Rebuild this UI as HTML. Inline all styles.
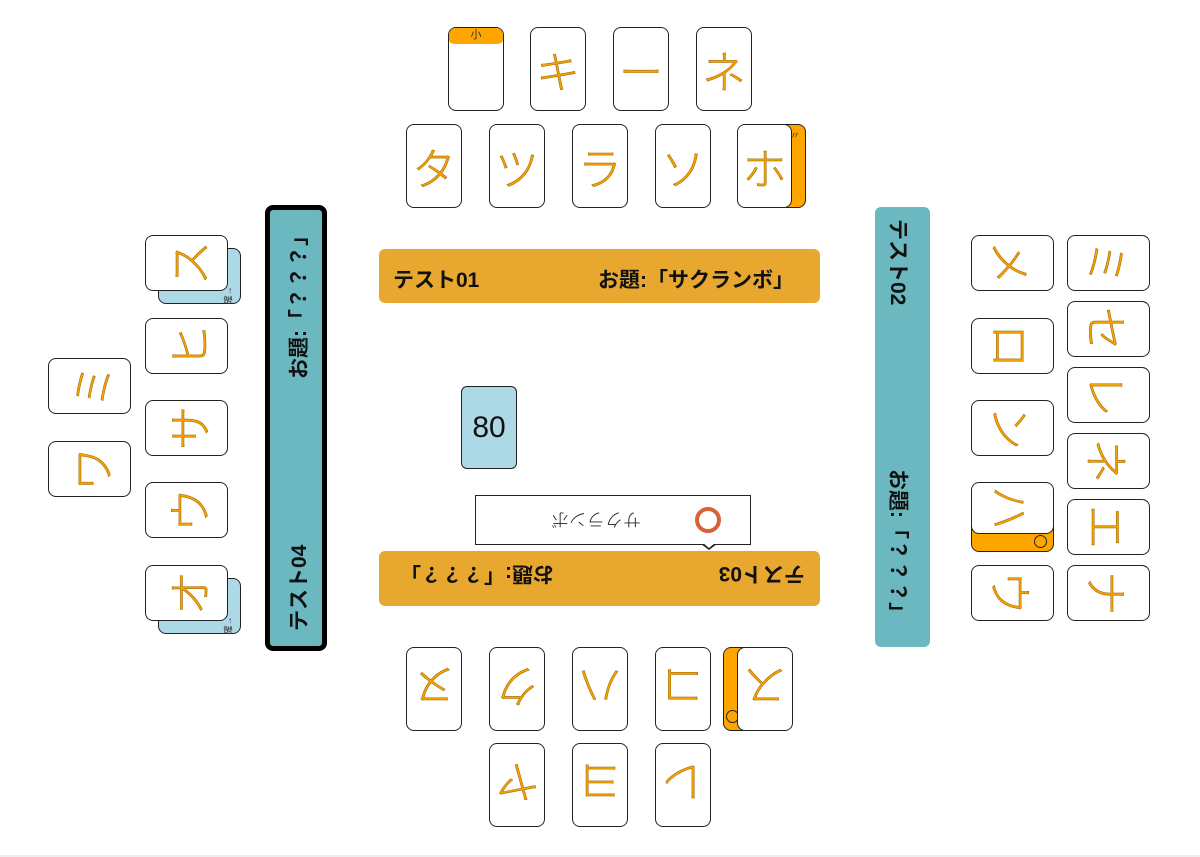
<!DOCTYPE html>
<html><head><meta charset="utf-8"><style>
body{margin:0;width:1200px;height:857px;background:#fff;position:relative;overflow:hidden;font-family:"Liberation Sans","Noto Sans CJK JP",sans-serif}
.c{position:absolute;background:#fff;border:1.5px solid #222;border-radius:8px;box-sizing:border-box;display:flex;align-items:center;justify-content:center;overflow:hidden}
.v{width:56px;height:84px}
.h{width:83px;height:56px}
.g{font-family:"Noto Sans CJK JP",sans-serif;font-weight:300;font-size:44px;color:#F5A300;-webkit-text-stroke:0.5px #9a6200;display:inline-block;line-height:1}
.r90{transform:rotate(90deg)}.rm90{transform:rotate(-90deg)}.r180{transform:rotate(180deg)}
.ban{position:absolute;border-radius:6px;box-sizing:border-box;font-weight:bold;font-size:21px;color:#111}
.blue{position:absolute;background:#ADD8E6;border:1.5px solid #222;border-radius:8px;box-sizing:border-box}
.or{position:absolute;background:#FFA500;border:1.5px solid #222;border-radius:8px;box-sizing:border-box}
</style></head><body>
<!-- top row1 -->
<div class="c v" style="left:448px;top:27px"><div style="position:absolute;left:0;top:0;right:0;height:16px;background:#FFA500;border-bottom-left-radius:6px 4px;border-bottom-right-radius:6px 4px;font-size:11px;text-align:center;line-height:14px;color:#333">小</div></div>
<div class="c v" style="left:530px;top:27px"><span class="g">キ</span></div>
<div class="c v" style="left:613px;top:27px"><span class="g">ー</span></div>
<div class="c v" style="left:696px;top:27px"><span class="g">ネ</span></div>
<!-- top row2 -->
<div class="c v" style="left:406px;top:124px"><span class="g">タ</span></div>
<div class="c v" style="left:489px;top:124px"><span class="g">ツ</span></div>
<div class="c v" style="left:572px;top:124px"><span class="g">ラ</span></div>
<div class="c v" style="left:655px;top:124px"><span class="g">ソ</span></div>
<div class="or" style="left:750px;top:124px;width:56px;height:84px"><span style="position:absolute;right:5px;top:2px;font-size:10px;color:#333">〃</span></div>
<div class="c v" style="left:737px;top:124px;width:55px"><span class="g">ホ</span></div>
<!-- top banner -->
<div class="ban" style="left:379px;top:249px;width:441px;height:54px;background:#E8A830">
<span style="position:absolute;left:14px;top:15px">テスト01</span><span style="position:absolute;left:219px;top:15px">お題:「サクランボ」</span></div>
<!-- left banner -->
<div class="ban" style="left:265px;top:205px;width:62px;height:446px;background:#6BB8C0;border:5px solid #000;border-radius:8px">
<div style="position:absolute;left:-200px;top:207px;width:450px;height:24px;transform:rotate(-90deg);text-align:left">
<span style="position:absolute;left:23px;top:0">テスト04</span><span style="position:absolute;left:275px;top:0">お題:「？？？」</span></div></div>
<!-- right banner -->
<div class="ban" style="left:875px;top:207px;width:55px;height:440px;background:#6BB8C0">
<div style="position:absolute;left:-193px;top:208px;width:440px;height:24px;transform:rotate(90deg)">
<span style="position:absolute;left:12px;top:0">テスト02</span><span style="position:absolute;left:262px;top:0">お題:「？？？」</span></div></div>
<!-- bottom banner -->
<div class="ban" style="left:379px;top:551px;width:441px;height:55px;background:#E8A830">
<div style="position:absolute;left:0;top:0;width:441px;height:55px;transform:rotate(180deg)">
<span style="position:absolute;left:15px;top:16px">テスト03</span><span style="position:absolute;left:266px;top:16px">お題:「？？？」</span></div></div>
<!-- speech box -->
<div style="position:absolute;left:475px;top:495px;width:276px;height:50px;border:1.5px solid #222;box-sizing:border-box;background:#fff">
<div style="position:absolute;left:0;top:0;width:273px;height:47px;transform:rotate(180deg)">
<span style="position:absolute;left:108px;top:14px;font-size:18px;color:#222;font-family:'Noto Sans CJK JP',sans-serif;font-weight:300;line-height:1">サクランボ</span>
<span style="position:absolute;left:28px;top:10px;width:26px;height:26px;border:4px solid #D9623A;border-radius:50%;box-sizing:border-box"></span></div></div>
<div style="position:absolute;left:701px;top:544px;width:0;height:0;border-left:8px solid transparent;border-right:8px solid transparent;border-top:6px solid #222"></div>
<div style="position:absolute;left:703px;top:543px;width:0;height:0;border-left:6px solid transparent;border-right:6px solid transparent;border-top:5px solid #fff"></div>
<!-- score -->
<div style="position:absolute;left:461px;top:386px;width:56px;height:83px;background:#ADD8E6;border:1.5px solid #222;border-radius:6px;box-sizing:border-box;display:flex;align-items:center;justify-content:center;font-size:30px;color:#111">80</div>
<!-- left cards -->
<div class="blue" style="left:158px;top:248px;width:83px;height:56px"><span style="position:absolute;right:3px;bottom:1px;font-size:9px;transform:rotate(-90deg);color:#333">確→</span></div>
<div class="c h" style="left:145px;top:235px"><span class="g rm90">ス</span></div>
<div class="c h" style="left:145px;top:318px"><span class="g rm90">ヒ</span></div>
<div class="c h" style="left:145px;top:400px"><span class="g rm90">サ</span></div>
<div class="c h" style="left:145px;top:482px"><span class="g rm90">ウ</span></div>
<div class="blue" style="left:158px;top:578px;width:83px;height:56px"><span style="position:absolute;right:3px;bottom:1px;font-size:9px;transform:rotate(-90deg);color:#333">確→</span></div>
<div class="c h" style="left:145px;top:565px"><span class="g rm90">オ</span></div>
<div class="c h" style="left:48px;top:358px"><span class="g rm90">ミ</span></div>
<div class="c h" style="left:48px;top:441px"><span class="g rm90">ワ</span></div>
<!-- right cards -->
<div class="c h" style="left:971px;top:235px"><span class="g r90">メ</span></div>
<div class="c h" style="left:971px;top:318px"><span class="g r90">ロ</span></div>
<div class="c h" style="left:971px;top:400px"><span class="g r90">ン</span></div>
<div class="or" style="left:971px;top:496px;width:83px;height:56px"><span style="position:absolute;right:6px;bottom:3px;width:11px;height:11px;border:1.2px solid #222;border-radius:50%"></span></div>
<div class="c h" style="left:971px;top:482px;height:52px"><span class="g r90">ハ</span></div>
<div class="c h" style="left:971px;top:565px"><span class="g r90">ウ</span></div>
<div class="c h" style="left:1067px;top:235px"><span class="g r90">ミ</span></div>
<div class="c h" style="left:1067px;top:301px"><span class="g r90">セ</span></div>
<div class="c h" style="left:1067px;top:367px"><span class="g r90">レ</span></div>
<div class="c h" style="left:1067px;top:433px"><span class="g r90">ネ</span></div>
<div class="c h" style="left:1067px;top:499px"><span class="g r90">エ</span></div>
<div class="c h" style="left:1067px;top:565px"><span class="g r90">ナ</span></div>
<!-- bottom cards -->
<div class="c v" style="left:406px;top:647px"><span class="g r180">ヌ</span></div>
<div class="c v" style="left:489px;top:647px"><span class="g r180">ク</span></div>
<div class="c v" style="left:572px;top:647px"><span class="g r180">ハ</span></div>
<div class="c v" style="left:655px;top:647px"><span class="g r180">コ</span></div>
<div class="or" style="left:723px;top:647px;width:56px;height:84px"><span style="position:absolute;left:2px;top:62px;width:11px;height:11px;border:1.2px solid #222;border-radius:50%"></span></div>
<div class="c v" style="left:737px;top:647px;width:56px"><span class="g r180">ス</span></div>
<div class="c v" style="left:489px;top:743px"><span class="g r180">ヤ</span></div>
<div class="c v" style="left:572px;top:743px"><span class="g r180">ヨ</span></div>
<div class="c v" style="left:655px;top:743px"><span class="g r180">レ</span></div>
<div style="position:absolute;left:0;top:855px;width:1200px;height:2px;background:#eee"></div>
</body></html>
